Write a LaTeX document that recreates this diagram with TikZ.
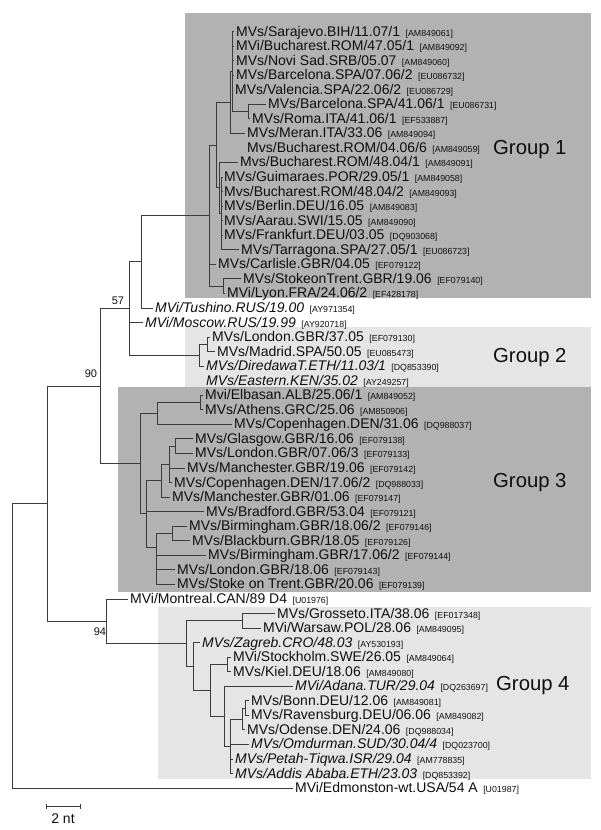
\documentclass[tikz,border=0pt]{standalone}
\usepackage{fontspec}
\setmainfont{Liberation Sans}
\definecolor{darkbg}{RGB}{178,178,178}
\definecolor{lightbg}{RGB}{229,229,229}
\definecolor{linec}{RGB}{60,60,60}
\definecolor{txt}{RGB}{15,15,15}
\newcommand{\acc}[1]{\hspace{5.5pt}{\fontsize{8.8}{10}\selectfont[#1]}}
\begin{document}
\begin{tikzpicture}[x=1pt,y=-1pt,
  br/.style={draw=linec, line width=0.85pt},
  leaf/.style={anchor=west, inner xsep=2pt, inner ysep=0pt, text height=12pt, text depth=3pt, font=\fontsize{14}{16}\selectfont, text=txt},
  boot/.style={inner sep=0pt, font=\fontsize{11}{13}\selectfont, text=txt},
  grp/.style={anchor=west, inner sep=0pt, font=\fontsize{20.3}{24}\selectfont, text=txt},
  bgdark/.style={fill=darkbg, draw=none},
  bglight/.style={fill=lightbg, draw=none}]
\useasboundingbox (0,0) rectangle (600,830);
\fill[white] (0,0) rectangle (600,830);
% group backgrounds
\path[bgdark] (185,13) rectangle (591,298);
\path[bglight] (185,327) rectangle (591,387);
\path[bgdark] (118,387) rectangle (591,592);
\path[bglight] (158,607) rectangle (591,779);
% group labels
\node[grp] (g1) at (493,150) {Group 1};
\node[grp] (g2) at (493,358) {Group 2};
\node[grp] (g3) at (493,483) {Group 3};
\node[grp] (g4) at (496,686) {Group 4};
% leaves
\node[leaf] (l1) at (234,31.5) {MVs/Sarajevo.BIH/11.07/1\acc{AM849061}};
\node[leaf] (l2) at (234,46.05) {MVi/Bucharest.ROM/47.05/1\acc{AM849092}};
\node[leaf] (l3) at (234,60.6) {MVs/Novi Sad.SRB/05.07\acc{AM849060}};
\node[leaf] (l4) at (234,75.15) {MVs/Barcelona.SPA/07.06/2\acc{EU086732}};
\node[leaf] (l5) at (233,89.7) {MVs/Valencia.SPA/22.06/2\acc{EU086729}};
\node[leaf] (l6) at (266,104.25) {MVs/Barcelona.SPA/41.06/1\acc{EU086731}};
\node[leaf] (l7) at (250,118.8) {MVs/Roma.ITA/41.06/1\acc{EF533887}};
\node[leaf] (l8) at (245,133.35) {MVs/Meran.ITA/33.06\acc{AM849094}};
\node[leaf] (l9) at (245,147.9) {Mvs/Bucharest.ROM/04.06/6\acc{AM849059}};
\node[leaf] (l10) at (238,162.45) {Mvs/Bucharest.ROM/48.04/1\acc{AM849091}};
\node[leaf] (l11) at (222,177.0) {MVs/Guimaraes.POR/29.05/1\acc{AM849058}};
\node[leaf] (l12) at (222,191.55) {Mvs/Bucharest.ROM/48.04/2\acc{AM849093}};
\node[leaf] (l13) at (222,206.1) {MVs/Berlin.DEU/16.05\acc{AM849083}};
\node[leaf] (l14) at (222,220.65) {MVs/Aarau.SWI/15.05\acc{AM849090}};
\node[leaf] (l15) at (222,235.2) {MVs/Frankfurt.DEU/03.05\acc{DQ903068}};
\node[leaf] (l16) at (239,249.75) {MVs/Tarragona.SPA/27.05/1\acc{EU086723}};
\node[leaf] (l17) at (216,264.3) {MVs/Carlisle.GBR/04.05\acc{EF079122}};
\node[leaf] (l18) at (241,278.85) {MVs/StokeonTrent.GBR/19.06\acc{EF079140}};
\node[leaf] (l19) at (225,293.4) {MVi/Lyon.FRA/24.06/2\acc{EF428178}};
\node[leaf] (l20) at (153,307.95) {{\itshape MVi/Tushino.RUS/19.00}\acc{AY971354}};
\node[leaf] (l21) at (143,322.5) {{\itshape MVi/Moscow.RUS/19.99}\acc{AY920718}};
\node[leaf] (l22) at (210,337.05) {MVs/London.GBR/37.05\acc{EF079130}};
\node[leaf] (l23) at (215,351.6) {MVs/Madrid.SPA/50.05\acc{EU085473}};
\node[leaf] (l24) at (204,366.15) {{\itshape MVs/DiredawaT.ETH/11.03/1}\acc{DQ853390}};
\node[leaf] (l25) at (204,380.7) {{\itshape MVs/Eastern.KEN/35.02}\acc{AY249257}};
\node[leaf] (l26) at (203,395.25) {Mvi/Elbasan.ALB/25.06/1\acc{AM849052}};
\node[leaf] (l27) at (203,409.8) {MVs/Athens.GRC/25.06\acc{AM850906}};
\node[leaf] (l28) at (232,424.35) {MVs/Copenhagen.DEN/31.06\acc{DQ988037}};
\node[leaf] (l29) at (193,438.9) {MVs/Glasgow.GBR/16.06\acc{EF079138}};
\node[leaf] (l30) at (193,453.45) {MVs/London.GBR/07.06/3\acc{EF079133}};
\node[leaf] (l31) at (185,468.0) {MVs/Manchester.GBR/19.06\acc{EF079142}};
\node[leaf] (l32) at (172,482.55) {MVs/Copenhagen.DEN/17.06/2\acc{DQ988033}};
\node[leaf] (l33) at (170,497.1) {MVs/Manchester.GBR/01.06\acc{EF079147}};
\node[leaf] (l34) at (204,511.65) {MVs/Bradford.GBR/53.04\acc{EF079121}};
\node[leaf] (l35) at (187,526.2) {MVs/Birmingham.GBR/18.06/2\acc{EF079146}};
\node[leaf] (l36) at (190,540.75) {MVs/Blackburn.GBR/18.05\acc{EF079126}};
\node[leaf] (l37) at (206,555.3) {MVs/Birmingham.GBR/17.06/2\acc{EF079144}};
\node[leaf] (l38) at (175,569.85) {MVs/London.GBR/18.06\acc{EF079143}};
\node[leaf] (l39) at (175,584.4) {MVs/Stoke on Trent.GBR/20.06\acc{EF079139}};
\node[leaf] (l40) at (128,598.95) {MVi/Montreal.CAN/89 D4\acc{U01976}};
\node[leaf] (l41) at (275,613.5) {MVs/Grosseto.ITA/38.06\acc{EF017348}};
\node[leaf] (l42) at (261,628.05) {MVi/Warsaw.POL/28.06\acc{AM849095}};
\node[leaf] (l43) at (200,642.6) {{\itshape MVs/Zagreb.CRO/48.03}\acc{AY530193}};
\node[leaf] (l44) at (231,657.15) {MVi/Stockholm.SWE/26.05\acc{AM849064}};
\node[leaf] (l45) at (231,671.7) {MVs/Kiel.DEU/18.06\acc{AM849080}};
\node[leaf] (l46) at (293,686.25) {{\itshape MVi/Adana.TUR/29.04}\acc{DQ263697}};
\node[leaf] (l47) at (249,700.8) {MVs/Bonn.DEU/12.06\acc{AM849081}};
\node[leaf] (l48) at (249,715.35) {MVs/Ravensburg.DEU/06.06\acc{AM849082}};
\node[leaf] (l49) at (245,729.9) {MVs/Odense.DEN/24.06\acc{DQ988034}};
\node[leaf] (l50) at (249,744.45) {{\itshape MVs/Omdurman.SUD/30.04/4}\acc{DQ023700}};
\node[leaf] (l51) at (233,759.0) {{\itshape MVs/Petah-Tiqwa.ISR/29.04}\acc{AM778835}};
\node[leaf] (l52) at (233,773.55) {{\itshape MVs/Addis Ababa.ETH/23.03}\acc{DQ853392}};
\node[leaf] (l53) at (293,788.1) {MVi/Edmonston-wt.USA/54 A\acc{U01987}};
% internal nodes
\coordinate (PT) at (232,71.5);
\coordinate (BR) at (248,111.5);
\coordinate (P1) at (230,102.4);
\coordinate (Q2) at (221.5,213.4);
\coordinate (Q) at (219,187.9);
\coordinate (U) at (216.5,145.2);
\coordinate (SL) at (223,286.1);
\coordinate (G1R) at (209,215.7);
\coordinate (N141) at (141,261.8);
\coordinate (LM) at (207,344.3);
\coordinate (G2) at (199,355.2);
\coordinate (N129) at (129,308.5);
\coordinate (EAn) at (200,402.5);
\coordinate (EA) at (157,413.4);
\coordinate (GL) at (175,446.2);
\coordinate (M1) at (169,464.4);
\coordinate (M2) at (161,480.75);
\coordinate (BB1) at (172,533.5);
\coordinate (BB2) at (156,547);
\coordinate (N146) at (146,513.9);
\coordinate (G3R) at (140,463.6);
\coordinate (N100) at (100,386);
\coordinate (GW) at (242,620.8);
\coordinate (SK) at (227,664.4);
\coordinate (BR2) at (245,708.1);
\coordinate (BRO) at (242,719);
\coordinate (V) at (230,746.3);
\coordinate (X) at (224,716.3);
\coordinate (Y) at (210,690.4);
\coordinate (Z) at (193,666.5);
\coordinate (G4R) at (186,643.7);
\coordinate (N94) at (106,621.3);
\coordinate (N90) at (47,503.7);
\coordinate (R0) at (12,645.9);
% branches
\draw[br] (R0) |- (N90);
\draw[br] (R0) |- (l53.west);
\draw[br] (N90) |- (N100);
\draw[br] (N90) |- (N94);
\draw[br] (N100) |- (N129);
\draw[br] (N100) |- (G3R);
\draw[br] (N129) |- (N141);
\draw[br] (N129) |- (l21.west);
\draw[br] (N129) |- (G2);
\draw[br] (N141) |- (G1R);
\draw[br] (N141) |- (l20.west);
\draw[br] (G1R) |- (U);
\draw[br] (G1R) |- (l17.west);
\draw[br] (G1R) |- (SL);
\draw[br] (U) |- (P1);
\draw[br] (U) |- (Q);
\draw[br] (P1) |- (PT);
\draw[br] (P1) |- (l8.west);
\foreach \k in {1,...,5} {\draw[br] (PT) |- (l\k.west);}
\draw[br] (PT) |- (BR);
\draw[br] (BR) |- (l6.west);
\draw[br] (BR) |- (l7.west);
\draw[br] (Q) |- (l10.west);
\draw[br] (Q) |- (Q2);
\foreach \k in {11,...,16} {\draw[br] (Q2) |- (l\k.west);}
\draw[br] (SL) |- (l18.west);
\draw[br] (SL) |- (l19.west);
\draw[br] (G2) |- (LM);
\draw[br] (G2) |- (l24.west);
\draw[br] (LM) |- (l22.west);
\draw[br] (LM) |- (l23.west);
\draw[br] (G3R) |- (EA);
\draw[br] (G3R) |- (N146);
\draw[br] (EA) |- (EAn);
\draw[br] (EA) |- (l28.west);
\draw[br] (EAn) |- (l26.west);
\draw[br] (EAn) |- (l27.west);
\draw[br] (N146) |- (M2);
\draw[br] (N146) |- (l34.west);
\draw[br] (N146) |- (BB2);
\draw[br] (M2) |- (M1);
\draw[br] (M2) |- (l33.west);
\draw[br] (M1) |- (GL);
\draw[br] (M1) |- (l31.west);
\draw[br] (M1) |- (l32.west);
\draw[br] (GL) |- (l29.west);
\draw[br] (GL) |- (l30.west);
\draw[br] (BB2) |- (BB1);
\draw[br] (BB2) |- (l37.west);
\draw[br] (BB2) |- (l38.west);
\draw[br] (BB2) |- (l39.west);
\draw[br] (BB1) |- (l35.west);
\draw[br] (BB1) |- (l36.west);
\draw[br] (N94) |- (l40.west);
\draw[br] (N94) |- (G4R);
\draw[br] (G4R) |- (GW);
\draw[br] (G4R) |- (Z);
\draw[br] (GW) |- (l41.west);
\draw[br] (GW) |- (l42.west);
\draw[br] (Z) |- (l43.west);
\draw[br] (Z) |- (Y);
\draw[br] (Y) |- (SK);
\draw[br] (Y) |- (X);
\draw[br] (SK) |- (l44.west);
\draw[br] (SK) |- (l45.west);
\draw[br] (X) |- (l46.west);
\draw[br] (X) |- (V);
\draw[br] (V) |- (BRO);
\draw[br] (V) |- (l50.west);
\draw[br] (V) |- (l51.west);
\draw[br] (V) |- (l52.west);
\draw[br] (BRO) |- (BR2);
\draw[br] (BRO) |- (l49.west);
\draw[br] (BR2) |- (l47.west);
\draw[br] (BR2) |- (l48.west);
% bootstrap values
\node[boot] (b57) at (118,301) {57};
\node[boot] (b90) at (91,374) {90};
\node[boot] (b94) at (100,632) {94};
% scale bar
\coordinate (sb1) at (46,806);
\coordinate (sb2) at (80,806);
\draw[br] (sb1) -- (sb2);
\draw[br] ([yshift=2.5pt]sb1) -- ([yshift=-2.5pt]sb1);
\draw[br] ([yshift=2.5pt]sb2) -- ([yshift=-2.5pt]sb2);
\node[inner sep=0pt, font=\fontsize{14}{16}\selectfont, text=txt] (sbl) at (63,819) {2 nt};
\end{tikzpicture}
\end{document}
